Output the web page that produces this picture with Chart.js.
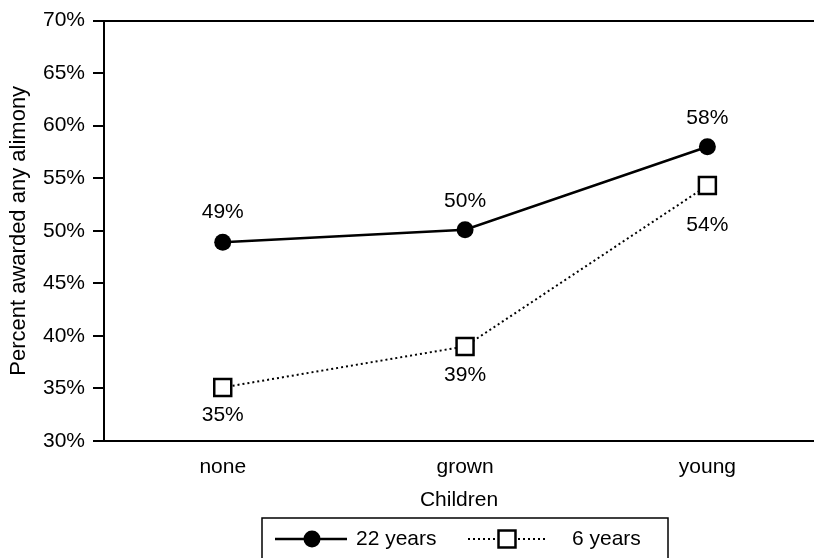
<!DOCTYPE html>
<html>
<head>
<meta charset="utf-8">
<script src="https://cdn.jsdelivr.net/npm/chart.js@4/dist/chart.umd.min.js"></script>
<style>
  html, body { margin: 0; padding: 0; background: #fff; overflow: hidden; }
  #wrap { width: 814px; height: 558px; position: relative; }
  canvas { display: block; }
</style>
</head>
<body>
<div id="wrap"><canvas id="alimonyChart"></canvas></div>
<script>
// Children categories and share awarded any alimony (%)
const categories = ['none', 'grown', 'young'];
const years22 = [48.9, 50.1, 58.0];
const years6 = [35.1, 39.0, 54.3];
const yTicks = [30, 35, 40, 45, 50, 55, 60, 65, 70];

const FONT = "'Liberation Sans', Arial, Helvetica, sans-serif";

function toPoints(values) {
  return values.map((v, i) => ({ x: i, y: v }));
}

// value labels next to each marker
const valueLabels = {
  id: 'valueLabels',
  afterDatasetsDraw(chart) {
    const ctx = chart.ctx;
    ctx.save();
    ctx.fillStyle = '#000';
    ctx.font = '21px ' + FONT;
    ctx.textAlign = 'center';
    ctx.textBaseline = 'middle';
    chart.data.datasets.forEach((ds, di) => {
      const meta = chart.getDatasetMeta(di);
      meta.data.forEach((pt, i) => {
        const v = ds.data[i].y;
        ctx.fillText(Math.round(v) + '%', pt.x, pt.y + ds.labelOffsets[i]);
      });
    });
    ctx.restore();
  }
};

// boxed legend under the axis title, line + marker samples
const boxLegend = {
  id: 'boxLegend',
  afterDraw(chart) {
    const ctx = chart.ctx;
    const ds = chart.data.datasets;
    ctx.save();
    ctx.strokeStyle = '#000';
    ctx.lineWidth = 1.5;
    ctx.strokeRect(262, 518, 406, 60);

    const y = 539;
    // 22 years
    ctx.lineWidth = ds[0].borderWidth;
    ctx.setLineDash([]);
    ctx.beginPath();
    ctx.moveTo(275, y);
    ctx.lineTo(347, y);
    ctx.stroke();
    ctx.fillStyle = '#000';
    ctx.beginPath();
    ctx.arc(312, y, ds[0].pointRadius, 0, Math.PI * 2);
    ctx.fill();

    // 6 years
    ctx.lineWidth = ds[1].borderWidth;
    ctx.setLineDash(ds[1].borderDash);
    ctx.beginPath();
    ctx.moveTo(468, y);
    ctx.lineTo(545, y);
    ctx.stroke();
    ctx.setLineDash([]);
    const s = ds[1].pointRadius * Math.SQRT1_2;
    ctx.fillStyle = '#fff';
    ctx.fillRect(507 - s, y - s, 2 * s, 2 * s);
    ctx.lineWidth = ds[1].pointBorderWidth;
    ctx.strokeRect(507 - s, y - s, 2 * s, 2 * s);

    ctx.fillStyle = '#000';
    ctx.font = '21px ' + FONT;
    ctx.textAlign = 'left';
    ctx.textBaseline = 'middle';
    ctx.fillText(ds[0].label, 356, y);
    ctx.fillText(ds[1].label, 572, y);
    ctx.restore();
  }
};

new Chart(document.getElementById('alimonyChart'), {
  type: 'line',
  data: {
    datasets: [{
      label: '22 years',
      data: toPoints(years22),
      borderColor: '#000',
      borderWidth: 2.5,
      pointStyle: 'circle',
      pointRadius: 8.5,
      pointBackgroundColor: '#000',
      pointBorderColor: '#000',
      pointBorderWidth: 0,
      tension: 0,
      labelOffsets: [-30, -29, -29]
    }, {
      label: '6 years',
      data: toPoints(years6),
      borderColor: '#000',
      borderWidth: 2,
      borderDash: [2, 3],
      pointStyle: 'rect',
      pointRadius: 12,
      pointBackgroundColor: '#fff',
      pointBorderColor: '#000',
      pointBorderWidth: 2.5,
      tension: 0,
      labelOffsets: [28, 29, 40]
    }]
  },
  options: {
    responsive: true,
    maintainAspectRatio: false,
    animation: false,
    layout: { autoPadding: false, padding: { top: 20, right: 0, bottom: 0, left: 0 } },
    plugins: {
      legend: { display: false },
      tooltip: { enabled: false }
    },
    scales: {
      x: {
        type: 'linear',
        min: -0.49,
        max: 2.44,
        afterBuildTicks: (scale) => {
          scale.ticks = categories.map((c, i) => ({ value: i }));
        },
        afterFit: (scale) => {
          scale.height = 117;
          scale.paddingLeft = 0;
          scale.paddingRight = 0;
        },
        grid: { display: false },
        border: { display: true, color: '#000', width: 2 },
        ticks: {
          color: '#000',
          font: { family: FONT, size: 21 },
          padding: 6,
          callback: (v) => categories[v]
        },
        title: {
          display: true,
          text: 'Children',
          color: '#000',
          font: { family: FONT, size: 21 },
          padding: { top: 0, bottom: 45 }
        }
      },
      y: {
        min: 30,
        max: 70,
        afterBuildTicks: (scale) => {
          scale.ticks = yTicks.map(v => ({ value: v }));
        },
        afterFit: (scale) => { scale.width = 104; },
        grid: {
          drawOnChartArea: true,
          color: (c) => (c.tick && c.tick.value === 70 ? '#000' : 'rgba(0,0,0,0)'),
          tickColor: '#000',
          tickLength: 11,
          lineWidth: 2
        },
        border: { display: true, color: '#000', width: 2 },
        ticks: {
          color: '#000',
          font: { family: FONT, size: 21 },
          padding: 8,
          callback: (v) => v + '%'
        },
        title: {
          display: true,
          text: 'Percent awarded any alimony',
          color: '#000',
          font: { family: FONT, size: 22 },
          padding: { top: 6, bottom: 0 }
        }
      }
    }
  },
  plugins: [valueLabels, boxLegend]
});
</script>
</body>
</html>
